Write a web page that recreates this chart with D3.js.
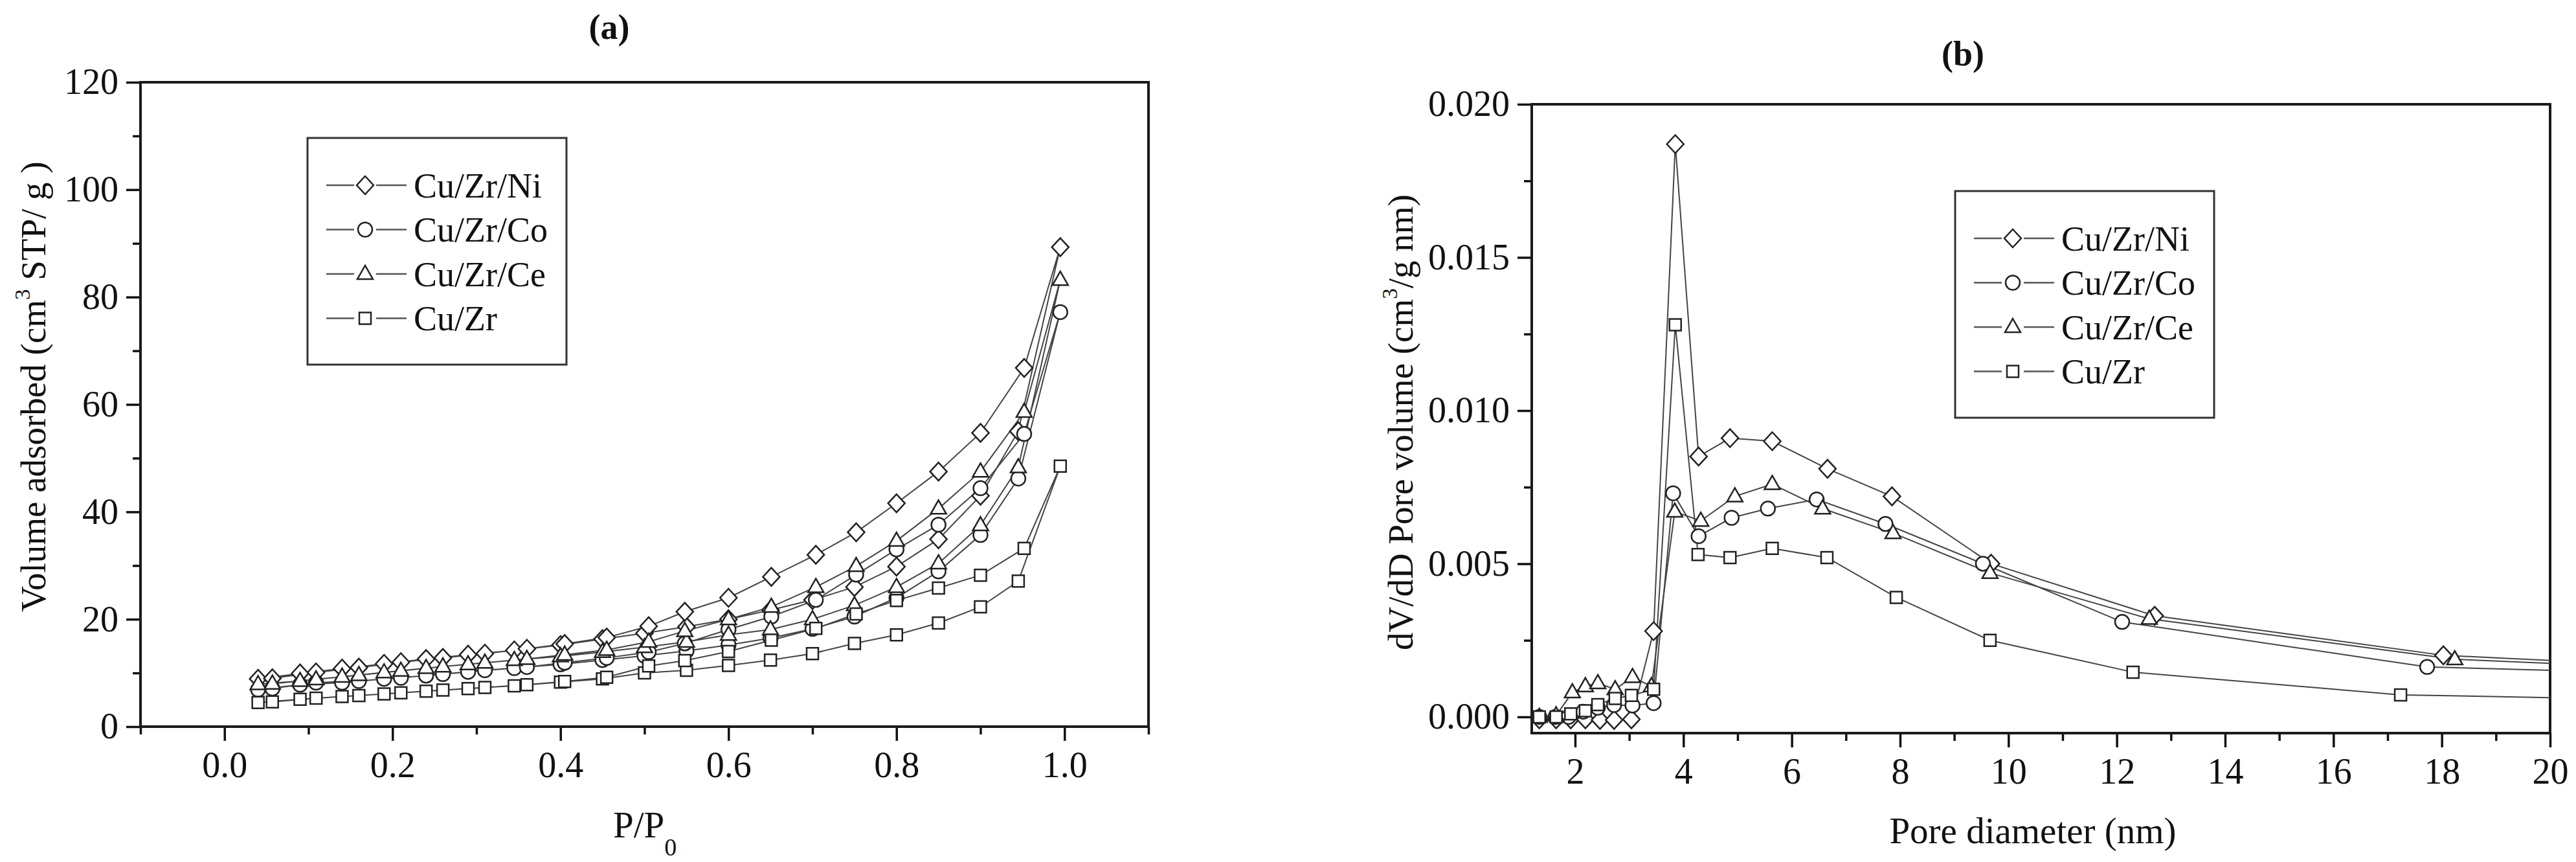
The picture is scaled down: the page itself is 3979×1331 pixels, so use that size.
<!DOCTYPE html>
<html>
<head>
<meta charset="utf-8">
<script src="https://cdn.jsdelivr.net/npm/d3@7"></script>
<style>
    body { margin: 0; background: #fff; }
    svg text { font-family: "Liberation Serif", "Times New Roman", serif; fill: #111; }
</style>
</head>
<body>
<svg id="chart" width="3979" height="1331"></svg>
<script>

// (a) N2 isotherms: adsorption branch (low -> high) and desorption branch (high -> low)
var adsP = [0.04, 0.09, 0.14, 0.19, 0.24, 0.29, 0.345, 0.40, 0.45, 0.50, 0.55, 0.60, 0.65, 0.70, 0.75, 0.80, 0.85, 0.90, 0.945, 0.995];
var desP = [0.952, 0.90, 0.85, 0.80, 0.752, 0.704, 0.651, 0.60, 0.548, 0.505, 0.455, 0.405, 0.36, 0.31, 0.26, 0.21, 0.16, 0.109, 0.057];

var niAds = [8.9, 9.9, 10.8, 11.7, 12.6, 13.4, 14.2, 15.2, 16.3, 17.4, 18.6, 20.0, 21.7, 23.6, 26.0, 29.8, 34.9, 43.0, 55.0, 89.3];
var niDes = [66.8, 54.7, 47.5, 41.6, 36.2, 32.0, 27.9, 24.0, 21.4, 18.7, 16.6, 15.4, 14.5, 13.6, 12.8, 12.0, 11.0, 10.1, 9.0];
var coAds = [6.9, 7.8, 8.2, 8.9, 9.5, 10.2, 10.9, 11.6, 12.4, 13.2, 14.1, 15.2, 16.5, 18.2, 20.5, 24.0, 28.9, 35.7, 46.2, 77.2];
var coDes = [54.5, 44.4, 37.6, 33.0, 28.3, 23.6, 20.5, 18.1, 15.5, 13.9, 12.8, 11.9, 11.1, 10.5, 9.8, 9.1, 8.5, 8.2, 7.1];
var ceAds = [7.9, 8.5, 9.3, 10.1, 10.9, 11.6, 12.4, 13.1, 13.9, 14.8, 15.8, 17.1, 18.1, 20.0, 22.6, 26.0, 30.4, 37.5, 48.3, 83.2];
var ceDes = [58.6, 47.5, 40.6, 34.6, 29.9, 26.0, 22.3, 20.0, 17.8, 15.8, 14.3, 13.4, 12.6, 11.9, 11.2, 10.4, 9.6, 8.8, 8.0];
var zrAds = [4.5, 5.1, 5.6, 6.1, 6.6, 7.1, 7.6, 8.3, 8.9, 10.0, 10.5, 11.4, 12.4, 13.6, 15.5, 17.1, 19.3, 22.3, 27.1, 48.5];
var zrDes = [33.2, 28.2, 25.8, 23.5, 21.0, 18.3, 16.1, 14.0, 12.3, 11.3, 9.2, 8.4, 7.8, 7.3, 6.8, 6.3, 5.8, 5.3, 4.6];

// (b) BJH pore size distribution (last point lies past the 20 nm edge, clipped)
var niD = [1.34, 1.65, 1.92, 2.19, 2.46, 2.72, 3.04, 3.45, 3.85, 4.28, 4.86, 5.64, 6.66, 7.85, 9.68, 12.7, 18.03, 22];
var niV = [-0.00008, -0.00008, -0.00008, -0.00008, -0.0001, -0.0001, -0.00008, 0.0028, 0.0187, 0.0085, 0.0091, 0.0090, 0.0081, 0.0072, 0.0050, 0.0033, 0.00201, 0.00167];
var coD = [1.34, 1.64, 1.88, 2.15, 2.42, 2.72, 3.06, 3.45, 3.81, 4.28, 4.89, 5.56, 6.46, 7.73, 9.53, 12.1, 17.73, 22];
var coV = [0, 0, 0, 0.00017, 0.0003, 0.00039, 0.00037, 0.00045, 0.0073, 0.0059, 0.0065, 0.0068, 0.0071, 0.0063, 0.0050, 0.0031, 0.00163, 0.00142];
var ceD = [1.34, 1.65, 1.95, 2.19, 2.42, 2.74, 3.06, 3.41, 3.84, 4.32, 4.95, 5.64, 6.57, 7.87, 9.66, 12.6, 18.24, 22];
var ceV = [0, 0.00005, 0.0008, 0.0010, 0.0011, 0.0009, 0.0013, 0.0010, 0.0067, 0.0064, 0.0072, 0.0076, 0.0068, 0.0060, 0.0047, 0.0032, 0.00188, 0.0016];
var zrD = [1.34, 1.65, 1.92, 2.19, 2.42, 2.74, 3.04, 3.45, 3.85, 4.27, 4.86, 5.64, 6.65, 7.93, 9.66, 12.3, 17.24, 22];
var zrV = [0, 0, 0.0001, 0.0002, 0.0004, 0.0006, 0.0007, 0.0009, 0.0128, 0.0053, 0.0052, 0.0055, 0.0052, 0.0039, 0.0025, 0.00146, 0.00072, 0.00056];

var names = ["Cu/Zr/Ni", "Cu/Zr/Co", "Cu/Zr/Ce", "Cu/Zr"];
var shapes = ["diamond", "circle", "triangle", "square"];

var xTicksA = d3.range(-0.1, 1.1001, 0.1).map(function(d) { return +d.toFixed(1); });
var xLabelsA = [0.0, 0.2, 0.4, 0.6, 0.8, 1.0];
var yTicksA = d3.range(0, 121, 10);
var yLabelsA = [0, 20, 40, 60, 80, 100, 120];
var xTicksB = d3.range(2, 21, 1);
var xLabelsB = [2, 4, 6, 8, 10, 12, 14, 16, 18, 20];
var yTicksB = [0, 0.0025, 0.005, 0.0075, 0.010, 0.0125, 0.015, 0.0175, 0.020];
var yLabelsB = [0, 0.005, 0.010, 0.015, 0.020];

function isotherm(ads, des) {
    var pts = ads.map(function(v, i) { return [adsP[i], v]; });
    return pts.concat(des.map(function(v, i) { return [desP[i], v]; }));
}

function zipped(xs, ys) {
    return xs.map(function(d, i) { return [d, ys[i]]; });
}

function markerPath(shape) {
    switch (shape) {
        case 'diamond':
            return "M0,-14L13,0L0,14L-13,0Z";
        case 'circle':
            return "M11,0A11,11 0 1,1 -11,0A11,11 0 1,1 11,0Z";
        case 'triangle':
            return "M0,-13L12,8L-12,8Z";
        default:
            return "M-9,-9H9V9H-9Z";
    }
}

var svg = d3.select("#chart");

function drawPanel(cfg) {
    var x = d3.scaleLinear().domain(cfg.xDomain).range([cfg.left, cfg.right]);
    var y = d3.scaleLinear().domain(cfg.yDomain).range([cfg.bottom, cfg.top]);
    var g = svg.append("g");

    g.append("clipPath")
        .attr("id", cfg.id + "Clip")
        .append("rect")
        .attr("x", cfg.left)
        .attr("y", cfg.top)
        .attr("width", cfg.right - cfg.left)
        .attr("height", cfg.bottom - cfg.top);

    // minor then major ticks, outward
    var minorX = cfg.xTicks.filter(function(d) { return cfg.xLabels.indexOf(d) < 0; });
    var minorY = cfg.yTicks.filter(function(d) { return cfg.yLabels.indexOf(d) < 0; });

    g.append("g")
        .attr("transform", "translate(0," + cfg.bottom + ")")
        .call(d3.axisBottom(x).tickValues(minorX).tickSize(12).tickFormat(""));
    g.append("g")
        .attr("class", "xlab")
        .attr("transform", "translate(0," + cfg.bottom + ")")
        .call(d3.axisBottom(x).tickValues(cfg.xLabels).tickSize(22).tickPadding(16).tickFormat(cfg.xFormat));
    g.append("g")
        .attr("transform", "translate(" + cfg.left + ",0)")
        .call(d3.axisLeft(y).tickValues(minorY).tickSize(12).tickFormat(""));
    g.append("g")
        .attr("transform", "translate(" + cfg.left + ",0)")
        .call(d3.axisLeft(y).tickValues(cfg.yLabels).tickSize(22).tickPadding(12).tickFormat(cfg.yFormat));

    g.selectAll(".domain").remove();
    g.selectAll(".tick line").attr("stroke", "#111").attr("stroke-width", 3.5);
    g.selectAll(".tick text")
        .style("font-family", '"Liberation Serif", serif')
        .style("font-size", "56px")
        .attr("fill", "#111");

    // frame
    g.append("rect")
        .attr("x", cfg.left)
        .attr("y", cfg.top)
        .attr("width", cfg.right - cfg.left)
        .attr("height", cfg.bottom - cfg.top)
        .attr("fill", "none")
        .attr("stroke", "#1a1a1a")
        .attr("stroke-width", 4);

    var line = d3.line()
        .x(function(d) { return x(d[0]); })
        .y(function(d) { return y(d[1]); });

    var plot = g.append("g").attr("clip-path", "url(#" + cfg.id + "Clip)");

    cfg.series.forEach(function(s, i) {
        plot.append("path")
            .datum(s)
            .attr("d", line)
            .attr("fill", "none")
            .attr("stroke", "#444")
            .attr("stroke-width", 2);
    });

    cfg.series.forEach(function(s, i) {
        plot.selectAll(null)
            .data(s)
            .enter()
            .append("path")
            .attr("transform", function(d) { return "translate(" + x(d[0]) + "," + y(d[1]) + ")"; })
            .attr("d", markerPath(shapes[i]))
            .attr("fill", "#fff")
            .attr("stroke", "#222")
            .attr("stroke-width", 2.5);
    });

    // legend
    var lg = g.append("g").attr("transform", "translate(" + cfg.legend[0] + "," + cfg.legend[1] + ")");
    lg.append("rect")
        .attr("width", 400)
        .attr("height", 350)
        .attr("fill", "#fff")
        .attr("stroke", "#333")
        .attr("stroke-width", 3);

    names.forEach(function(name, i) {
        var row = lg.append("g").attr("transform", "translate(0," + (73 + i * 68.5) + ")");
        row.append("line").attr("x1", 29).attr("x2", 72).attr("stroke", "#555").attr("stroke-width", 2.5);
        row.append("line").attr("x1", 106).attr("x2", 153).attr("stroke", "#555").attr("stroke-width", 2.5);
        row.append("path")
            .attr("transform", "translate(89,0)")
            .attr("d", markerPath(shapes[i]))
            .attr("fill", "#fff")
            .attr("stroke", "#222")
            .attr("stroke-width", 2.5);
        row.append("text")
            .attr("x", 164)
            .attr("dy", "0.35em")
            .style("font-size", "54px")
            .text(name);
    });

    // panel title
    g.append("text")
        .attr("x", cfg.title[0])
        .attr("y", cfg.title[1])
        .attr("text-anchor", "middle")
        .style("font-size", "54px")
        .style("font-weight", "bold")
        .text(cfg.label);

    return g;
}

var ga = drawPanel({
    id: "iso", label: "(a)", title: [941, 60],
    left: 217, right: 1774, top: 127, bottom: 1122,
    xDomain: [-0.1, 1.1], yDomain: [0, 120],
    xTicks: xTicksA, xLabels: xLabelsA, yTicks: yTicksA, yLabels: yLabelsA,
    xFormat: d3.format(".1f"), yFormat: d3.format("d"),
    legend: [475, 213],
    series: [isotherm(niAds, niDes), isotherm(coAds, coDes), isotherm(ceAds, ceDes), isotherm(zrAds, zrDes)]
});

var gb = drawPanel({
    id: "psd", label: "(b)", title: [3032, 101],
    left: 2366, right: 3939, top: 161, bottom: 1132,
    xDomain: [1.2, 20], yDomain: [-0.00053, 0.020],
    xTicks: xTicksB, xLabels: xLabelsB, yTicks: yTicksB, yLabels: yLabelsB,
    xFormat: d3.format("d"), yFormat: d3.format(".3f"),
    legend: [3020, 295],
    series: [zipped(niD, niV), zipped(coD, coV), zipped(ceD, ceV), zipped(zrD, zrV)]
});

// axis titles
var xt = ga.append("text").attr("x", 947).attr("y", 1293).style("font-size", "57px");
xt.append("tspan").text("P/P");
xt.append("tspan").attr("dy", 28).style("font-size", "38px").text("0");

var yt = ga.append("text")
    .attr("transform", "translate(70,597) rotate(-90)")
    .attr("text-anchor", "middle")
    .style("font-size", "55px");
yt.append("tspan").text("Volume adsorbed (cm");
yt.append("tspan").attr("dy", -24).style("font-size", "33px").text("3");
yt.append("tspan").attr("dy", 24).text(" STP/ g )");

gb.append("text")
    .attr("x", 3140)
    .attr("y", 1302)
    .attr("text-anchor", "middle")
    .style("font-size", "57px")
    .text("Pore diameter (nm)");

var yt2 = gb.append("text")
    .attr("transform", "translate(2182,652) rotate(-90)")
    .attr("text-anchor", "middle")
    .style("font-size", "55px");
yt2.append("tspan").text("dV/dD Pore volume (cm");
yt2.append("tspan").attr("dy", -24).style("font-size", "33px").text("3");
yt2.append("tspan").attr("dy", 24).text("/g nm)");

</script>
</body>
</html>
